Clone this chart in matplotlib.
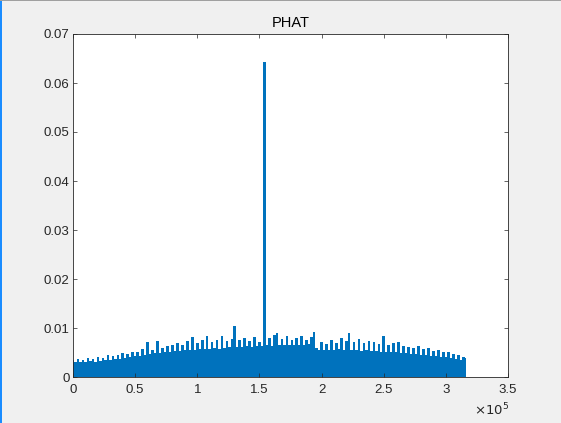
import numpy as np
import matplotlib
matplotlib.use("Agg")
import matplotlib.pyplot as plt
from matplotlib.patches import Rectangle

# -------------------- DATOS --------------------
# PHAT values (x 1e-3), one sample every 2000 lags
SAMPLE_STEP = 2000
phat_milli = [
    3.4, 3.0, 3.7, 3.1, 3.5, 3.0, 3.8, 3.2, 3.6, 3.1,
    4.1, 3.3, 3.9, 3.4, 4.4, 3.5, 4.2, 3.6, 4.5, 3.7,
    4.9, 3.9, 4.6, 4.1, 5.2, 4.2, 5.0, 4.3, 5.8, 4.4,
    7.2, 4.6, 5.6, 4.8, 7.3, 4.9, 6.0, 5.0, 6.4, 5.1,
    6.6, 5.3, 7.0, 5.4, 6.5, 5.5, 7.4, 5.5, 8.2, 5.6,
    7.0, 5.7, 7.6, 5.8, 8.4, 5.7, 7.2, 5.9, 7.5, 5.8,
    8.4, 6.0, 7.3, 6.1, 7.8, 10.5, 6.2, 7.6, 6.1, 8.0,
    6.3, 7.4, 6.2, 8.1, 6.4, 7.2, 6.3, 64.3, 6.5, 7.9,
    6.4, 8.6, 9.0, 6.5, 7.7, 6.6, 8.3, 6.5, 7.5, 6.6,
    8.0, 6.6, 8.4, 6.5, 7.6, 6.7, 8.2, 9.2, 6.0, 5.6,
    7.2, 5.5, 6.8, 5.6, 7.6, 5.5, 7.0, 5.7, 8.0, 5.6,
    7.4, 9.0, 5.6, 7.1, 5.5, 7.8, 5.4, 6.9, 5.5, 7.3,
    5.3, 7.1, 5.3, 6.8, 5.2, 8.4, 5.1, 6.6, 5.2, 7.0,
    5.0, 7.1, 4.9, 6.4, 4.8, 6.2, 4.7, 6.0, 4.6, 6.3,
    4.5, 5.8, 4.4, 6.0, 4.3, 5.4, 4.2, 5.6, 4.1, 5.2,
    4.0, 5.0, 3.9, 4.7, 3.7, 4.5, 3.5, 4.1, 3.9,
]
x_ticks_label = ["0", "0.5", "1", "1.5", "2", "2.5", "3", "3.5"]
y_ticks_label = ["0", "0.01", "0.02", "0.03", "0.04", "0.05", "0.06", "0.07"]

phat = np.array(phat_milli) * 1e-3
lags = np.arange(len(phat)) * SAMPLE_STEP

# -------------------- FIGURA --------------------
AZUL = "#0072BD"
GRIS = "#262626"
plt.rcParams["font.family"] = ["Liberation Sans", "DejaVu Sans"]

fig = plt.figure(figsize=(5.61, 4.23), dpi=100, facecolor="#f0f0f0")
ax = fig.add_axes([73 / 561, 46 / 423, 435 / 561, 343 / 423])

ax.fill_between(lags, 0, phat, step="mid", color=AZUL, lw=0)

ax.set_xlim(0, 3.5e5)
ax.set_ylim(0, 0.07)
ax.set_xticks([float(t) * 1e5 for t in x_ticks_label], x_ticks_label)
ax.set_yticks([float(t) for t in y_ticks_label], y_ticks_label)

ax.tick_params(direction="in", length=3.2, width=0.5, colors=GRIS, labelsize=9.5,
               top=True, right=True)
ax.tick_params(axis="x", pad=5)
ax.tick_params(axis="y", pad=2.5)
for s in ax.spines.values():
    s.set_linewidth(0.6)
    s.set_color(GRIS)

ax.set_title("PHAT", fontsize=10.5, color="black", pad=5)

# multiplicador del eje x
fig.text(509 / 561, 1 - 410 / 423, r"$\times10^{5}$", ha="right", va="center",
         fontsize=9.5, color=GRIS)

# bordes de ventana
fig.patches.append(Rectangle((0, 0), 2 / 561, 1, transform=fig.transFigure,
                             color="#1a8cff", lw=0))
fig.patches.append(Rectangle((0, 1 - 1.5 / 423), 1, 1.5 / 423, transform=fig.transFigure,
                             color="#a0a0a0", lw=0))

fig.savefig("out.png", dpi=100, facecolor=fig.get_facecolor())
